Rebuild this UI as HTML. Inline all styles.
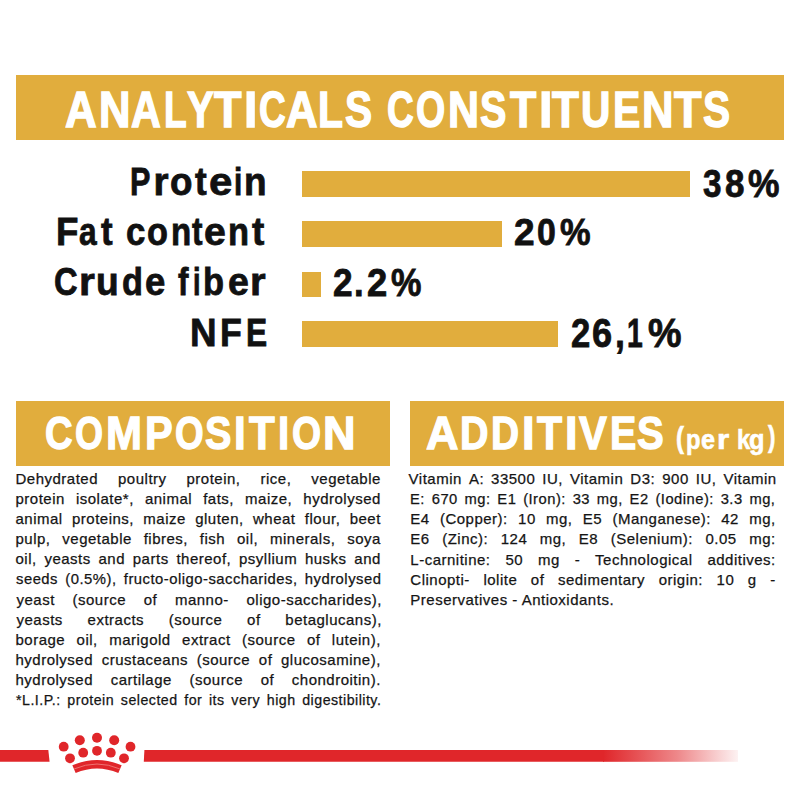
<!DOCTYPE html>
<html><head><meta charset="utf-8"><style>
html,body{margin:0;padding:0;background:#fff;width:800px;height:800px;overflow:hidden}
.wrap{position:relative;width:800px;height:800px;background:#fff}
.bx{position:absolute;background:#e1ad3d}
.t{position:absolute;white-space:pre;font-family:'Liberation Sans', Arial, sans-serif;line-height:1;transform-origin:0 0}
.j,.b{position:absolute;white-space:pre;font-family:'Liberation Sans', Arial, sans-serif;font-size:15px;letter-spacing:0.5px;line-height:1;color:#151515;-webkit-text-stroke:0.25px #151515;transform-origin:0 0}
.j{display:flex;justify-content:space-between}
.crown{position:absolute;left:0;top:0}
.L{left:0}
.L span{position:absolute;top:0;transform-origin:0 0}
</style></head><body><div class="wrap">
<div class="bx" style="left:15.5px;top:75px;width:768.5px;height:65px"></div>
<div class="bx" style="left:301.75px;top:170.9px;width:388.25px;height:26.3px"></div>
<div class="bx" style="left:301.75px;top:220.9px;width:200.5px;height:26.6px"></div>
<div class="bx" style="left:301.75px;top:271.5px;width:18.75px;height:25.7px"></div>
<div class="bx" style="left:301.75px;top:320.8px;width:256.6px;height:25.8px"></div>
<div class="bx" style="left:15.5px;top:401px;width:374.5px;height:64.6px"></div>
<div class="bx" style="left:410px;top:401px;width:374px;height:64.6px"></div>
<div class="t L" style="top:86.00px;font-size:49.13px;font-weight:700;color:#fff;-webkit-text-stroke:1.4px #fff;"><span style="left:65.00px;transform:scaleX(0.893)">A</span><span style="left:98.83px;transform:scaleX(0.887)">N</span><span style="left:130.60px;transform:scaleX(0.840)">A</span><span style="left:164.09px;transform:scaleX(0.756)">L</span><span style="left:186.50px;transform:scaleX(0.818)">Y</span><span style="left:214.40px;transform:scaleX(0.917)">T</span><span style="left:244.31px;transform:scaleX(0.972)">I</span><span style="left:259.25px;transform:scaleX(0.753)">C</span><span style="left:286.40px;transform:scaleX(0.889)">A</span><span style="left:318.33px;transform:scaleX(0.833)">L</span><span style="left:344.77px;transform:scaleX(0.827)">S</span> <span style="left:386.75px;transform:scaleX(0.753)">C</span><span style="left:416.14px;transform:scaleX(0.764)">O</span><span style="left:447.65px;transform:scaleX(0.874)">N</span><span style="left:480.44px;transform:scaleX(0.806)">S</span><span style="left:510.00px;transform:scaleX(0.875)">T</span><span style="left:538.64px;transform:scaleX(0.978)">I</span><span style="left:551.90px;transform:scaleX(0.895)">T</span><span style="left:581.45px;transform:scaleX(0.827)">U</span><span style="left:613.33px;transform:scaleX(0.833)">E</span><span style="left:641.98px;transform:scaleX(0.887)">N</span><span style="left:674.40px;transform:scaleX(0.917)">T</span><span style="left:702.92px;transform:scaleX(0.827)">S</span></div>
<div class="t L" style="top:163.00px;font-size:38.7px;font-weight:700;color:#111;-webkit-text-stroke:0.8px #111;"><span style="left:129.72px;transform:scaleX(0.791)">P</span><span style="left:153.50px;transform:scaleX(1.000)">r</span><span style="left:170.25px;transform:scaleX(0.950)">o</span><span style="left:194.80px;transform:scaleX(0.908)">t</span><span style="left:209.11px;transform:scaleX(1.085)">e</span><span style="left:234.06px;transform:scaleX(0.771)">i</span><span style="left:244.49px;transform:scaleX(0.955)">n</span></div>
<div class="t L" style="top:213.00px;font-size:38.7px;font-weight:700;color:#111;-webkit-text-stroke:0.8px #111;"><span style="left:55.60px;transform:scaleX(0.948)">F</span><span style="left:79.38px;transform:scaleX(0.819)">a</span><span style="left:100.80px;transform:scaleX(0.900)">t</span> <span style="left:126.10px;transform:scaleX(0.900)">c</span><span style="left:147.21px;transform:scaleX(0.886)">o</span><span style="left:170.79px;transform:scaleX(0.855)">n</span><span style="left:192.00px;transform:scaleX(0.815)">t</span><span style="left:203.99px;transform:scaleX(1.015)">e</span><span style="left:228.42px;transform:scaleX(0.890)">n</span><span style="left:252.10px;transform:scaleX(0.954)">t</span></div>
<div class="t L" style="top:263.00px;font-size:38.7px;font-weight:700;color:#111;-webkit-text-stroke:0.8px #111;"><span style="left:53.95px;transform:scaleX(0.846)">C</span><span style="left:78.89px;transform:scaleX(1.054)">r</span><span style="left:95.58px;transform:scaleX(0.960)">u</span><span style="left:122.01px;transform:scaleX(0.886)">d</span><span style="left:144.56px;transform:scaleX(0.945)">e</span> <span style="left:178.20px;transform:scaleX(0.814)">f</span><span style="left:193.00px;transform:scaleX(0.700)">i</span><span style="left:203.22px;transform:scaleX(0.890)">b</span><span style="left:227.63px;transform:scaleX(0.970)">e</span><span style="left:250.02px;transform:scaleX(1.038)">r</span></div>
<div class="t L" style="top:313.00px;font-size:39.28px;font-weight:700;color:#111;-webkit-text-stroke:0.8px #111;"><span style="left:190.43px;transform:scaleX(0.938)">N</span><span style="left:219.78px;transform:scaleX(0.910)">F</span><span style="left:245.78px;transform:scaleX(0.809)">E</span></div>
<div class="t L" style="top:165.00px;font-size:38.84px;font-weight:700;color:#111;-webkit-text-stroke:0.8px #111;"><span style="left:703.00px;transform:scaleX(0.857)">3</span><span style="left:725.10px;transform:scaleX(0.900)">8</span><span style="left:748.00px;transform:scaleX(0.912)">%</span></div>
<div class="t L" style="top:214.00px;font-size:37.83px;font-weight:700;color:#111;-webkit-text-stroke:0.8px #111;"><span style="left:514.02px;transform:scaleX(0.979)">2</span><span style="left:537.11px;transform:scaleX(0.895)">0</span><span style="left:560.00px;transform:scaleX(0.909)">%</span></div>
<div class="t L" style="top:264.00px;font-size:38.84px;font-weight:700;color:#111;-webkit-text-stroke:0.8px #111;"><span style="left:333.34px;transform:scaleX(0.907)">2</span><span style="left:353.71px;transform:scaleX(0.893)">.</span><span style="left:367.06px;transform:scaleX(0.938)">2</span><span style="left:391.10px;transform:scaleX(0.882)">%</span></div>
<div class="t L" style="top:313.00px;font-size:40.43px;font-weight:700;color:#111;-webkit-text-stroke:0.8px #111;"><span style="left:571.14px;transform:scaleX(0.857)">2</span><span style="left:592.20px;transform:scaleX(0.895)">6</span><span style="left:614.83px;transform:scaleX(0.886)">,</span><span style="left:626.90px;transform:scaleX(0.700)">1</span><span style="left:647.80px;transform:scaleX(0.933)">%</span></div>
<div class="t L" style="top:410.00px;font-size:46.52px;font-weight:700;color:#fff;-webkit-text-stroke:1.3px #fff;"><span style="left:44.78px;transform:scaleX(0.822)">C</span><span style="left:74.83px;transform:scaleX(0.774)">O</span><span style="left:105.64px;transform:scaleX(0.929)">M</span><span style="left:145.11px;transform:scaleX(0.893)">P</span><span style="left:174.81px;transform:scaleX(0.791)">O</span><span style="left:205.05px;transform:scaleX(0.852)">S</span><span style="left:234.44px;transform:scaleX(0.906)">I</span><span style="left:248.75px;transform:scaleX(0.905)">T</span><span style="left:278.27px;transform:scaleX(0.867)">I</span><span style="left:291.90px;transform:scaleX(0.803)">O</span><span style="left:323.06px;transform:scaleX(0.969)">N</span></div>
<div class="t L" style="top:410.00px;font-size:46.52px;font-weight:700;color:#fff;-webkit-text-stroke:1.3px #fff;"><span style="left:425.60px;transform:scaleX(0.967)">A</span><span style="left:459.56px;transform:scaleX(0.847)">D</span><span style="left:490.83px;transform:scaleX(0.835)">D</span><span style="left:521.81px;transform:scaleX(0.972)">I</span><span style="left:536.90px;transform:scaleX(0.883)">T</span><span style="left:564.97px;transform:scaleX(0.967)">I</span><span style="left:578.75px;transform:scaleX(0.898)">V</span><span style="left:609.55px;transform:scaleX(0.848)">E</span><span style="left:636.64px;transform:scaleX(0.862)">S</span></div>
<div class="t L" style="top:427.00px;font-size:27.0px;font-weight:700;color:#fff;-webkit-text-stroke:0.6px #fff;"><span style="left:676.41px;transform:translateY(-3.27px) scale(0.888,1.085)">(</span><span style="left:685.72px;transform:scaleX(0.877)">p</span><span style="left:701.06px;transform:scaleX(0.936)">e</span><span style="left:716.59px;transform:scaleX(1.165)">r</span> <span style="left:736.87px;transform:scaleX(0.882)">k</span><span style="left:749.16px;transform:scaleX(0.939)">g</span><span style="left:768.10px;transform:translateY(-3.68px) scale(0.825,1.092)">)</span></div>
<div class="j" style="left:15.50px;top:471.00px;width:365.40px"><span>Dehydrated</span><span>poultry</span><span>protein,</span><span>rice,</span><span>vegetable</span></div>
<div class="j" style="left:15.50px;top:491.00px;width:365.40px"><span>protein</span><span>isolate*,</span><span>animal</span><span>fats,</span><span>maize,</span><span>hydrolysed</span></div>
<div class="j" style="left:15.50px;top:511.00px;width:365.40px"><span>animal</span><span>proteins,</span><span>maize</span><span>gluten,</span><span>wheat</span><span>flour,</span><span>beet</span></div>
<div class="j" style="left:15.50px;top:531.00px;width:365.40px"><span>pulp,</span><span>vegetable</span><span>fibres,</span><span>fish</span><span>oil,</span><span>minerals,</span><span>soya</span></div>
<div class="j" style="left:15.50px;top:551.00px;width:365.40px"><span>oil,</span><span>yeasts</span><span>and</span><span>parts</span><span>thereof,</span><span>psyllium</span><span>husks</span><span>and</span></div>
<div class="j" style="left:15.51px;top:571.00px;width:369.93px;transform:scaleX(0.9878)"><span>seeds</span><span>(0.5%),</span><span>fructo-oligo-saccharides,</span><span>hydrolysed</span></div>
<div class="j" style="left:16.50px;top:592.00px;width:365.40px"><span>yeast</span><span>(source</span><span>of</span><span>manno-</span><span>oligo-saccharides),</span></div>
<div class="j" style="left:16.50px;top:612.00px;width:365.40px"><span>yeasts</span><span>extracts</span><span>(source</span><span>of</span><span>betaglucans),</span></div>
<div class="j" style="left:15.50px;top:632.00px;width:365.40px"><span>borage</span><span>oil,</span><span>marigold</span><span>extract</span><span>(source</span><span>of</span><span>lutein),</span></div>
<div class="j" style="left:15.50px;top:652.00px;width:365.40px"><span>hydrolysed</span><span>crustaceans</span><span>(source</span><span>of</span><span>glucosamine),</span></div>
<div class="j" style="left:15.50px;top:672.00px;width:365.40px"><span>hydrolysed</span><span>cartilage</span><span>(source</span><span>of</span><span>chondroitin).</span></div>
<div class="j" style="left:15.55px;top:692.00px;width:385.51px;transform:scaleX(0.9478)"><span>*L.I.P.:</span><span>protein</span><span>selected</span><span>for</span><span>its</span><span>very</span><span>high</span><span>digestibility.</span></div>
<div class="j" style="left:408.60px;top:471.00px;width:368.20px"><span>Vitamin</span><span>A:</span><span>33500</span><span>IU,</span><span>Vitamin</span><span>D3:</span><span>900</span><span>IU,</span><span>Vitamin</span></div>
<div class="j" style="left:410.32px;top:491.00px;width:372.05px;transform:scaleX(0.9824)"><span>E:</span><span>670</span><span>mg:</span><span>E1</span><span>(Iron):</span><span>33</span><span>mg,</span><span>E2</span><span>(Iodine):</span><span>3.3</span><span>mg,</span></div>
<div class="j" style="left:410.30px;top:511.00px;width:365.50px"><span>E4</span><span>(Copper):</span><span>10</span><span>mg,</span><span>E5</span><span>(Manganese):</span><span>42</span><span>mg,</span></div>
<div class="j" style="left:410.30px;top:531.00px;width:365.50px"><span>E6</span><span>(Zinc):</span><span>124</span><span>mg,</span><span>E8</span><span>(Selenium):</span><span>0.05</span><span>mg:</span></div>
<div class="j" style="left:410.30px;top:552.00px;width:365.50px"><span>L-carnitine:</span><span>50</span><span>mg</span><span>-</span><span>Technological</span><span>additives:</span></div>
<div class="j" style="left:410.30px;top:572.00px;width:365.50px"><span>Clinopti-</span><span>lolite</span><span>of</span><span>sedimentary</span><span>origin:</span><span>10</span><span>g</span><span>-</span></div>
<div class="b" style="left:410.30px;top:592.00px">Preservatives - Antioxidants.</div>
<svg class="crown" width="800" height="800" viewBox="0 0 800 800">
<defs><linearGradient id="fade" x1="0" x2="1" y1="0" y2="0">
<stop offset="0" stop-color="#e0262a" stop-opacity="1"/>
<stop offset="0.25" stop-color="#e0262a" stop-opacity="0.8"/>
<stop offset="0.55" stop-color="#e0262a" stop-opacity="0.55"/>
<stop offset="0.85" stop-color="#e0262a" stop-opacity="0.22"/>
<stop offset="1" stop-color="#e0262a" stop-opacity="0.06"/>
</linearGradient></defs>
<polygon points="0,750 48.3,750 49.6,761.8 0,761.8" fill="#e0262a"/>
<polygon points="144.4,750 604,750 604,761.8 143.8,761.8" fill="#e0262a"/>
<rect x="603" y="750" width="135" height="11.8" fill="url(#fade)"/>
<g fill="#e0262a">
<circle cx="63.7" cy="746.7" r="4.9"/>
<circle cx="79.8" cy="740.3" r="5.0"/>
<circle cx="97" cy="737.7" r="5.0"/>
<circle cx="114.2" cy="740.3" r="5.0"/>
<circle cx="130.5" cy="746.7" r="4.9"/>
<circle cx="70" cy="758.3" r="4.9"/>
<circle cx="83.2" cy="752.7" r="4.9"/>
<circle cx="97" cy="750.8" r="4.9"/>
<circle cx="110.8" cy="752.7" r="4.9"/>
<circle cx="124" cy="758.3" r="4.9"/>
</g>
<path d="M74 769.2 A58 58 0 0 1 120 769.2" fill="none" stroke="#e0262a" stroke-width="8.4"/>
<path d="M74.2 768.9 A58 58 0 0 1 119.8 768.9" fill="none" stroke="#f07b78" stroke-width="0.9"/>
</svg>
</div></body></html>
